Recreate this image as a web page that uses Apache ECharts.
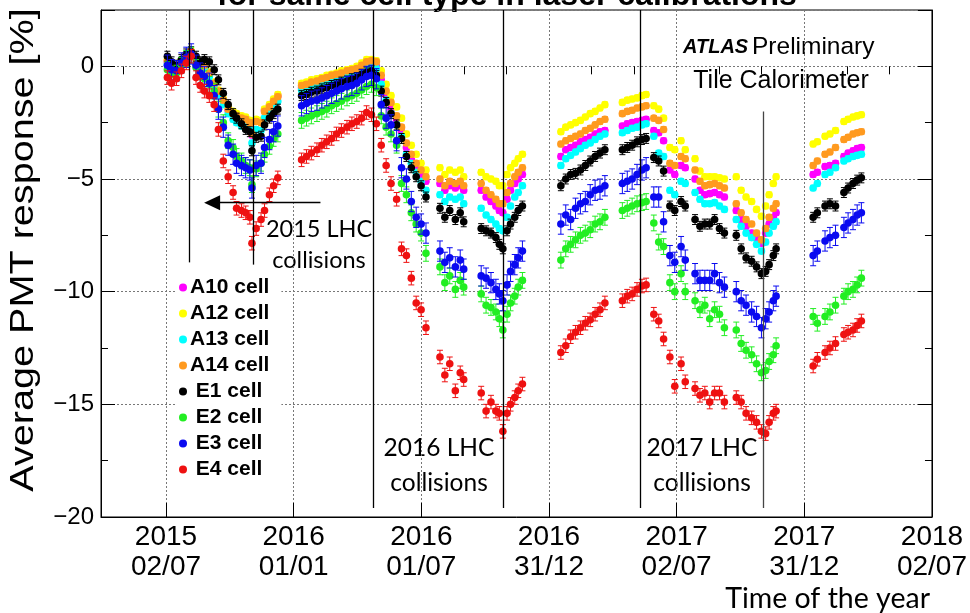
<!DOCTYPE html>
<html>
<head>
<meta charset="utf-8">
<title>Average PMT response</title>
<script src="https://cdn.jsdelivr.net/npm/echarts@6/dist/echarts.min.js"></script>
<style>
  html, body { margin: 0; padding: 0; background: #fff; }
  #main { width: 970px; height: 613px; }
</style>
</head>
<body>
<div id="main"></div>
<script>
// laser calibration runs, in days since 2015-07-02
const runDays = [
  2, 8, 15, 22, 29, 36, 43, 49, 55, 62, 69, 75, 82, 89, 96, 101, 108, 114, 120, 123, 129, 136, 141, 148, 154, 160,
  194, 201, 208, 216, 223, 230, 237, 244, 251, 259, 266, 273, 280, 287, 294, 301,
  308, 315, 322, 330, 337, 344, 351, 358, 365, 372,
  392, 399, 406, 414, 421, 426,
  451, 458, 465, 472, 477, 482, 488, 493, 499, 504, 510,
  565, 572, 579, 586, 593, 600, 607, 614, 621, 628, 653, 660, 667, 674, 681, 687,
  698, 705, 712, 721, 728, 737, 743, 757, 764, 771, 778, 785, 792, 799, 816, 823, 830, 838, 845, 852, 858, 863, 869, 873,
  926, 932, 943, 950, 958, 970, 976, 983, 989, 995
];

const a10 = [
  0.20, -0.05, -0.15, 0.15, 0.40, 0.58, 0.25, -0.10, 0.00, -0.35, -0.80, -1.15, -1.55, -1.95, -2.15, -2.25, -2.35, -2.30, -2.45, -3.05, -2.40, -2.45, -1.95, -1.75, -1.50, -1.30,
  -0.95, -0.90, -0.80, -0.75, -0.70, -0.60, -0.55, -0.50, -0.40, -0.35, -0.30, -0.20, -0.05, 0.05, 0.10, 0.00,
  -0.60, -1.30, -1.90, -2.40, -2.90, -3.60, -4.10, -4.50, -4.80, -5.10,
  -5.2, -5.5, -5.3, -5.4, -5.3, -5.5,
  -5.5, -5.8, -6.0, -6.2, -6.4, -6.5, -5.9, -5.5, -5.2, -5.0, -4.8,
  -4.0, -3.7, -3.6, -3.5, -3.35, -3.25, -3.15, -3.0, -2.9, -2.85, -2.65, -2.55, -2.5, -2.45, -2.4, -2.35,
  -2.85, -2.95, -3.3, -4.6, -4.8, -4.4, -4.5, -5.0, -5.5, -5.7, -5.65, -5.6, -5.7, -5.8, -6.4, -6.8, -7.1, -7.4, -7.6, -7.85, -7.4, -7.0, -6.7, -6.5,
  -4.8, -4.7, -4.45, -4.4, -4.3, -4.0, -3.85, -3.75, -3.65, -3.6
];
const a12 = [
  0.30, 0.05, -0.05, 0.25, 0.50, 0.68, 0.35, 0.00, 0.10, -0.25, -0.70, -1.05, -1.45, -1.80, -2.00, -2.10, -2.20, -2.25, -2.40, -2.90, -2.35, -2.40, -1.90, -1.70, -1.45, -1.25,
  -0.75, -0.70, -0.60, -0.55, -0.50, -0.40, -0.35, -0.30, -0.20, -0.15, -0.10, 0.00, 0.15, 0.30, 0.30, 0.25,
  -0.20, -0.80, -1.30, -1.80, -2.30, -3.00, -3.50, -3.90, -4.30, -4.60,
  -4.5, -4.8, -4.6, -4.7, -4.6, -4.9,
  -4.7, -4.9, -5.0, -5.1, -5.3, -5.3, -4.8, -4.5, -4.3, -4.1, -3.9,
  -2.9, -2.7, -2.6, -2.5, -2.4, -2.25, -2.1, -2.0, -1.85, -1.7, -1.6, -1.5, -1.45, -1.4, -1.3, -1.25,
  -1.75, -1.9, -2.3, -3.6, -3.7, -3.3, -3.7, -4.1, -4.65, -4.9, -4.9, -4.9, -4.95, -5.0, -4.9, -5.5, -5.8, -6.0, -6.35, -6.65, -6.2, -5.7, -5.2, -4.9,
  -3.45, -3.35, -3.1, -3.0, -2.85, -2.45, -2.35, -2.25, -2.2, -2.15
];
const a13 = [
  0.10, -0.15, -0.25, 0.05, 0.30, 0.50, 0.15, -0.20, -0.10, -0.45, -0.95, -1.30, -1.70, -2.10, -2.35, -2.50, -2.65, -2.70, -2.85, -3.40, -2.80, -2.85, -2.30, -2.05, -1.80, -1.55,
  -1.05, -1.00, -0.90, -0.85, -0.80, -0.70, -0.65, -0.55, -0.50, -0.45, -0.35, -0.30, -0.15, 0.00, 0.00, -0.10,
  -0.80, -1.50, -2.10, -2.60, -3.10, -3.90, -4.30, -4.70, -5.10, -5.50,
  -5.7, -6.0, -5.8, -5.9, -5.8, -6.1,
  -6.3, -6.6, -6.8, -7.0, -7.2, -7.3, -6.7, -6.2, -5.8, -5.6, -5.3,
  -4.4, -4.1, -3.95, -3.8, -3.65, -3.5, -3.4, -3.25, -3.1, -3.0, -2.95, -2.85, -2.75, -2.7, -2.6, -2.55,
  -3.1, -3.85, -4.0, -5.5, -5.7, -5.1, -5.2, -5.6, -5.9, -6.1, -6.1, -6.05, -6.2, -6.35, -6.8, -7.1, -7.4, -7.6, -7.9, -8.2, -7.8, -7.4, -7.1, -6.9,
  -5.4, -5.2, -4.8, -4.7, -4.5, -4.2, -4.1, -4.0, -3.95, -3.9
];
const a14 = [
  0.25, 0.00, -0.10, 0.20, 0.45, 0.62, 0.30, -0.05, 0.05, -0.30, -0.75, -1.10, -1.50, -1.90, -2.10, -2.20, -2.30, -2.35, -2.50, -3.00, -2.45, -2.50, -2.00, -1.80, -1.55, -1.35,
  -0.85, -0.80, -0.70, -0.65, -0.55, -0.50, -0.40, -0.35, -0.30, -0.20, -0.15, -0.10, 0.05, 0.20, 0.25, 0.20,
  -0.40, -1.10, -1.60, -2.20, -2.70, -3.40, -3.90, -4.30, -4.60, -4.90,
  -5.0, -5.3, -5.1, -5.2, -5.1, -5.3,
  -5.2, -5.5, -5.7, -5.9, -6.1, -6.1, -5.6, -5.2, -4.9, -4.7, -4.5,
  -3.45, -3.3, -3.2, -3.1, -3.0, -2.85, -2.75, -2.6, -2.45, -2.35, -2.1, -2.0, -1.95, -1.85, -1.8, -1.75,
  -2.3, -2.4, -2.8, -4.3, -4.4, -4.0, -4.1, -4.6, -5.1, -5.3, -5.25, -5.2, -5.3, -5.4, -6.1, -6.5, -6.8, -7.0, -7.4, -7.7, -7.2, -6.7, -6.3, -6.1,
  -4.4, -4.2, -3.9, -3.8, -3.6, -3.25, -3.15, -3.0, -2.95, -2.9
];
const e1 = [
  0.45, 0.20, 0.05, 0.30, 0.55, 0.65, 0.45, 0.20, 0.30, 0.20, -0.15, -0.60, -1.20, -1.70, -2.10, -2.30, -2.55, -2.80, -2.90, -3.75, -3.15, -3.10, -2.60, -2.30, -2.10, -1.90,
  -1.30, -1.25, -1.15, -1.10, -1.00, -0.95, -0.85, -0.80, -0.70, -0.65, -0.55, -0.50, -0.35, -0.25, -0.20, -0.40,
  -1.10, -1.60, -2.10, -2.60, -3.20, -4.00, -4.50, -4.90, -5.30, -5.80,
  -6.3, -6.7, -6.4, -6.8, -6.5, -6.9,
  -7.2, -7.3, -7.4, -7.6, -7.9, -8.1, -7.3, -7.0, -6.7, -6.4, -6.2,
  -5.3, -5.0, -4.8, -4.75, -4.6, -4.4, -4.2, -4.0, -3.85, -3.7, -3.7, -3.6, -3.5, -3.35, -3.25, -3.2,
  -4.05, -4.2, -4.65, -6.2, -6.4, -6.0, -6.2, -6.8, -7.1, -7.0, -7.0, -6.8, -7.2, -7.4, -7.5, -8.1, -8.5, -8.65, -8.9, -9.2, -9.1, -8.8, -8.4, -8.1,
  -6.7, -6.5, -6.2, -6.1, -6.2, -5.6, -5.4, -5.2, -5.05, -4.95
];
const e2 = [
  -0.15, -0.35, -0.30, 0.05, 0.35, 0.50, -0.05, -0.45, -0.55, -0.80, -1.10, -1.90, -2.50, -3.30, -3.60, -4.00, -4.20, -4.40, -4.50, -5.25, -4.55, -4.30, -3.90, -3.55, -3.20, -3.00,
  -2.40, -2.30, -2.20, -2.10, -2.00, -1.90, -1.75, -1.65, -1.55, -1.40, -1.30, -1.20, -1.05, -0.90, -0.80, -0.95,
  -2.20, -2.70, -3.00, -3.50, -5.20, -5.70, -6.50, -7.00, -7.40, -8.30,
  -8.9, -9.6, -9.3, -9.9, -9.5, -9.8,
  -10.1, -10.6, -10.7, -10.9, -11.2, -11.7, -11.0, -10.5, -10.2, -9.8, -9.5,
  -8.6, -8.1, -7.9, -7.7, -7.5, -7.4, -7.25, -7.0, -6.9, -6.7, -6.4, -6.3, -6.2, -6.1, -6.05, -6.0,
  -6.95, -7.8, -8.0, -9.6, -10.0, -9.2, -10.0, -10.4, -10.8, -10.6, -11.2, -10.8, -11.0, -11.6, -11.7, -12.3, -12.6, -12.8, -13.2, -13.6, -13.5, -13.1, -12.8, -12.4,
  -11.1, -11.4, -11.1, -10.9, -10.6, -10.2, -10.0, -9.9, -9.7, -9.4
];
const e3 = [
  0.05, -0.15, -0.20, 0.15, 0.40, 0.55, 0.05, -0.30, -0.45, -0.75, -1.30, -1.90, -2.70, -3.50, -3.90, -4.30, -4.40, -4.50, -4.60, -5.40, -4.40, -4.30, -3.60, -3.25, -2.90, -2.65,
  -1.75, -1.65, -1.55, -1.50, -1.40, -1.30, -1.20, -1.10, -1.00, -0.90, -0.85, -0.75, -0.60, -0.45, -0.40, -0.55,
  -1.70, -2.30, -2.60, -3.30, -4.50, -5.00, -6.00, -6.70, -7.00, -7.40,
  -8.2, -8.7, -8.5, -8.9, -8.6, -9.0,
  -9.3, -9.4, -9.6, -9.9, -10.1, -10.4, -9.7, -9.1, -8.8, -8.5, -8.2,
  -7.0, -6.6, -6.8, -6.3, -6.1, -6.0, -5.7, -5.5, -5.45, -5.3, -5.2, -5.1, -5.0, -4.8, -4.6, -4.5,
  -5.8, -5.8, -6.9, -8.4, -8.7, -8.0, -8.6, -9.2, -9.5, -9.5, -9.5, -9.2, -9.6, -9.8, -10.0, -10.4, -10.6, -10.9, -11.1, -11.6, -11.2, -10.9, -10.4, -10.2,
  -8.4, -8.2, -7.75, -7.6, -7.5, -7.15, -6.95, -6.8, -6.6, -6.5
];
const e4 = [
  -0.50, -0.75, -0.55, -0.20, 0.15, 0.45, -0.50, -0.85, -1.10, -1.30, -1.70, -2.80, -4.20, -4.90, -5.60, -6.30, -6.40, -6.50, -6.70, -7.85, -7.20, -6.80, -6.40, -5.70, -5.30, -4.95,
  -4.15, -4.00, -3.85, -3.70, -3.50, -3.35, -3.20, -3.00, -2.85, -2.70, -2.55, -2.45, -2.30, -2.05, -2.15, -2.55,
  -3.50, -4.40, -5.20, -5.90, -8.10, -8.40, -9.40, -10.50, -10.80, -11.60,
  -12.9, -13.7, -13.2, -14.4, -13.6, -13.9,
  -14.5, -15.3, -14.9, -15.3, -15.4, -16.2, -15.4, -15.0, -14.7, -14.4, -14.1,
  -12.7, -12.4, -12.0, -11.8, -11.6, -11.4, -11.25, -11.0, -10.8, -10.5, -10.4, -10.2, -10.1, -9.9, -9.75, -9.7,
  -11.0, -11.3, -12.1, -12.9, -14.2, -13.2, -14.0, -14.3, -14.6, -14.5, -14.9, -14.5, -14.5, -14.9, -14.7, -14.9, -15.4, -15.6, -15.8, -16.2, -16.3, -15.8, -15.4, -15.3,
  -13.3, -13.0, -12.7, -12.5, -12.3, -11.9, -11.8, -11.7, -11.5, -11.3
];

// typical error bar half-height per cell type [%]
const cellErrors = [0.12, 0.12, 0.12, 0.12, 0.22, 0.35, 0.45, 0.3];
const cellNames = ['A10 cell', 'A12 cell', 'A13 cell', 'A14 cell', 'E1 cell', 'E2 cell', 'E3 cell', 'E4 cell'];
const cellValues = [a10, a12, a13, a14, e1, e2, e3, e4];
const cellColors = ['#ff00ff', '#ffff00', '#00ffff', '#ff9a1f', '#000000', '#22ee22', '#0a0af0', '#ee1111'];

// x axis: labelled dates and their day offsets
const tickLabels = ['2015\n02/07', '2016\n01/01', '2016\n01/07', '2016\n31/12', '2017\n02/07', '2017\n31/12', '2018\n02/07'];
const tickDays = [0, 182.67, 365.33, 548, 730.67, 913.33, 1096];
// start / end of LHC collisions each year (days)
const collisionDays = [33, 125, 297, 483, 678, 854];

const myChart = echarts.init(document.getElementById('main'));

// minor ticks: every third of a labelled interval
const minorDays = [];
for (let i = 0; i < tickDays.length - 1; i++) {
  const step = (tickDays[i + 1] - tickDays[i]) / 3;
  minorDays.push(tickDays[i] + step, tickDays[i] + 2 * step);
}
minorDays.unshift(tickDays[0] - (tickDays[1] - tickDays[0]) / 3);

// marker with a vertical error bar
function renderErr(params, api) {
  const x = api.value(0), v = api.value(1), e = api.value(2);
  const c = api.coord([x, v]);
  const hi = api.coord([x, v + e]);
  const lo = api.coord([x, v - e]);
  const col = api.visual('color');
  return {
    type: 'group',
    children: [
      { type: 'line', shape: { x1: c[0], y1: hi[1], x2: c[0], y2: lo[1] }, style: { stroke: col, lineWidth: 1 } },
      { type: 'line', shape: { x1: c[0] - 3, y1: hi[1], x2: c[0] + 3, y2: hi[1] }, style: { stroke: col, lineWidth: 1 } },
      { type: 'line', shape: { x1: c[0] - 3, y1: lo[1], x2: c[0] + 3, y2: lo[1] }, style: { stroke: col, lineWidth: 1 } },
      { type: 'circle', shape: { cx: c[0], cy: c[1], r: 3.8 }, style: { fill: col } }
    ]
  };
}

const cellSeries = cellNames.map((name, k) => ({
  name: name,
  type: 'custom',
  renderItem: renderErr,
  clip: true,
  itemStyle: { color: cellColors[k] },
  encode: { x: 0, y: 1 },
  data: runDays
    .map((d, i) => [d, cellValues[k][i], cellErrors[k]])
    .filter(p => p[1] !== null && p[1] !== undefined)
}));

// vertical collision lines and the 2015 arrow
const lineSeries = {
  type: 'line',
  data: [],
  silent: true,
  markLine: {
    silent: true,
    symbol: 'none',
    label: { show: false },
    lineStyle: { color: '#000', width: 1.3, type: 'solid' },
    data: [
      [{ coord: [collisionDays[0], 2.5] }, { coord: [collisionDays[0], -8.7] }],
      [{ coord: [collisionDays[1], 2.5] }, { coord: [collisionDays[1], -8.8] }],
      [{ coord: [collisionDays[2], 2.5] }, { coord: [collisionDays[2], -19.6] }],
      [{ coord: [collisionDays[3], 2.5] }, { coord: [collisionDays[3], -19.6] }],
      [{ coord: [collisionDays[4], 2.5] }, { coord: [collisionDays[4], -19.6] }],
      [{ coord: [collisionDays[5], -2.0] }, { coord: [collisionDays[5], -19.6], lineStyle: { color: '#444' } }],
      [{ coord: [221, -6.05], symbol: 'none' }, { coord: [66, -6.05], symbol: 'triangle', symbolSize: [15, 16], symbolRotate: 90 }]
    ]
  }
};

const annFont = 'Lato, "Open Sans", sans-serif';
const rootFont = '"Liberation Sans", Arial, sans-serif';

const option = {
  animation: false,
  backgroundColor: '#fff',
  grid: {
    left: 101,
    right: 34,
    top: 10,
    bottom: 96,
    show: true,
    borderColor: '#000',
    borderWidth: 1
  },
  legend: {
    data: cellNames,
    orient: 'vertical',
    left: 175,
    top: 275,
    icon: 'circle',
    itemWidth: 8,
    itemHeight: 8,
    itemGap: 5,
    padding: [2, 12, 2, 4],
    backgroundColor: '#fff',
    // E-cell entries sit a little further right in the original legend
    formatter: name => (name.charAt(0) === 'E' ? ' ' + name : name),
    textStyle: { fontFamily: rootFont, fontWeight: 'bold', fontSize: 21, color: '#000', padding: [0, 0, 0, -2] }
  },
  xAxis: [
    {
      type: 'value',
      min: -93,
      max: 1096,
      axisLine: { show: true, onZero: false, lineStyle: { color: '#000' } },
      axisTick: { show: true, inside: true, length: 14, customValues: tickDays, lineStyle: { color: '#000' } },
      axisLabel: {
        customValues: tickDays,
        formatter: v => {
          const i = tickDays.indexOf(v);
          return i >= 0 ? tickLabels[i] : '';
        },
        color: '#000',
        fontFamily: rootFont,
        fontSize: 28,
        lineHeight: 30,
        margin: 5
      },
      splitLine: { show: true, lineStyle: { color: '#777', type: [2, 2], width: 1 } }
    },
    {
      type: 'value',
      min: -93,
      max: 1096,
      axisLine: { show: false },
      axisTick: { show: true, inside: true, length: 8, customValues: minorDays, lineStyle: { color: '#000' } },
      axisLabel: { show: false },
      splitLine: { show: false }
    }
  ],
  yAxis: [
    {
      type: 'value',
      min: -20,
      max: 2.5,
      interval: 5,
      axisLine: { show: true, onZero: false, lineStyle: { color: '#000' } },
      axisTick: { show: true, inside: true, length: 14, lineStyle: { color: '#000' } },
      minorTick: { show: true, splitNumber: 2, length: 7, lineStyle: { color: '#000' } },
      axisLabel: {
        showMaxLabel: false,
        formatter: v => (v === 0 ? '0' : '\u2212' + Math.abs(v)),
        color: '#000',
        fontFamily: rootFont,
        fontSize: 24,
        margin: 7
      },
      splitLine: { show: true, lineStyle: { color: '#777', type: [2, 2], width: 1 } }
    },
    {
      type: 'value',
      position: 'right',
      min: -20,
      max: 2.5,
      interval: 5,
      axisLine: { show: true, onZero: false, lineStyle: { color: '#000' } },
      axisTick: { show: true, inside: true, length: 14, lineStyle: { color: '#000' } },
      minorTick: { show: true, splitNumber: 2, length: 7, lineStyle: { color: '#000' } },
      axisLabel: { show: false },
      splitLine: { show: false }
    }
  ],
  series: cellSeries.concat([lineSeries]),
  graphic: [
    {
      type: 'text', x: 507, y: 12,
      style: { text: 'for same cell type in laser calibrations', font: 'bold 32px ' + rootFont, fill: '#000', align: 'center', verticalAlign: 'bottom' }
    },
    {
      type: 'text', x: 24, y: 250, rotation: Math.PI / 2, scaleX: 1.2,
      style: { text: 'Average PMT response [%]', font: '33px ' + rootFont, fill: '#000', align: 'center', verticalAlign: 'middle' }
    },
    {
      type: 'text', x: 683, y: 47,
      style: { text: 'ATLAS', font: 'italic bold 20px ' + rootFont, fill: '#000', verticalAlign: 'middle' }
    },
    {
      type: 'text', x: 752, y: 47,
      style: { text: 'Preliminary', font: '24.5px ' + rootFont, fill: '#000', verticalAlign: 'middle' }
    },
    {
      type: 'text', x: 781, y: 81,
      style: { text: 'Tile Calorimeter', font: '25px ' + rootFont, fill: '#000', align: 'center', verticalAlign: 'middle' }
    },
    {
      type: 'text', x: 319, y: 245,
      style: { text: '2015 LHC\ncollisions', font: '23.5px ' + annFont, lineHeight: 31, fill: '#000', align: 'center', verticalAlign: 'middle' }
    },
    {
      type: 'text', x: 439, y: 466,
      style: { text: '2016 LHC\ncollisions', font: '24.5px ' + annFont, lineHeight: 35, fill: '#000', align: 'center', verticalAlign: 'middle' }
    },
    {
      type: 'text', x: 702, y: 466,
      style: { text: '2017 LHC\ncollisions', font: '24.5px ' + annFont, lineHeight: 35, fill: '#000', align: 'center', verticalAlign: 'middle' }
    },
    {
      type: 'text', x: 930, y: 599,
      style: { text: 'Time of the year', font: '28.5px ' + annFont, fill: '#000', align: 'right', verticalAlign: 'middle' }
    }
  ]
};

myChart.setOption(option);
window.addEventListener('resize', function () {
  myChart && myChart.resize();
});
</script>
</body>
</html>
